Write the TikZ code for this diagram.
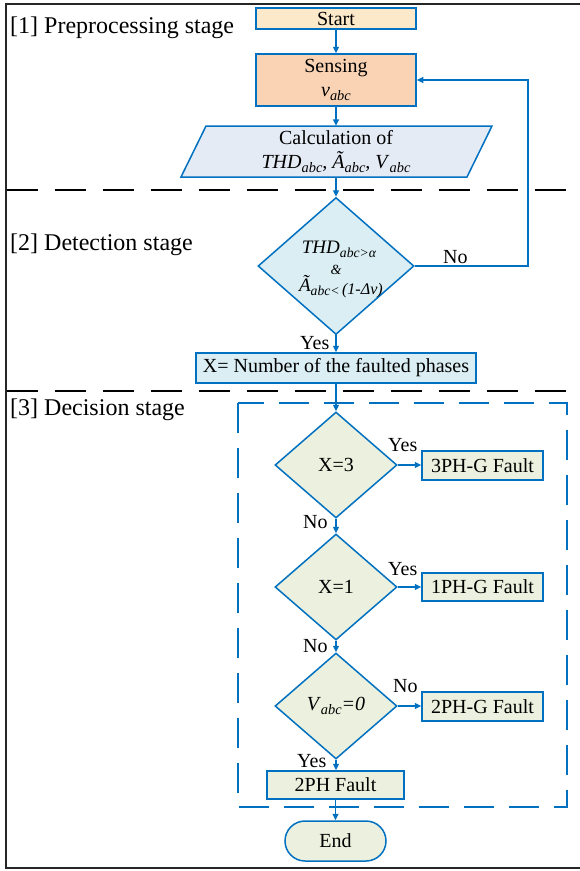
\documentclass[tikz,border=0pt]{standalone}
\usepackage{fontspec}
\usepackage{graphicx}
\setmainfont{Liberation Serif}
\usetikzlibrary{shapes.geometric,arrows.meta}
\definecolor{lblue}{HTML}{0070C0}
\definecolor{startfill}{HTML}{FCE9CA}
\definecolor{sensefill}{HTML}{F9D3B4}
\definecolor{calcfill}{HTML}{E4EBF5}
\definecolor{bfill}{HTML}{DAEEF3}
\definecolor{gfill}{HTML}{EBF1DE}
\newcommand\mysub[1]{\raisebox{-0.24em}{\scalebox{0.72}{\itshape #1}}}
\begin{document}
\begin{tikzpicture}[x=1pt,y=-1pt,
  every node/.style={font=\fontsize{20}{24}\selectfont, inner sep=0pt},
  box/.style={draw=lblue, line width=1.5pt, rectangle},
  dia/.style={draw=lblue, line width=1.5pt, diamond, fill=gfill, minimum width=122pt, minimum height=106pt},
  arr/.style={draw=lblue, line width=1.5pt, -{Triangle[length=6.5pt,width=6pt]}},
  lbl/.style={anchor=base west},
  stagelbl/.style={anchor=base west, font=\fontsize{24}{28}\selectfont},
  sep/.style={draw=black, line width=2.2pt, dash pattern=on 31pt off 17pt}]
\useasboundingbox (0,0) rectangle (580,871);
% frame
\draw[black!85, line width=1.6pt] (580,4) -- (6,4) -- (6,868) -- (580,868);
\draw[sep] (7,190) -- (580,190);
\draw[sep] (7,391) -- (580,391);
% stage labels
\node[stagelbl] (s1) at (10,33) {[1] Preprocessing stage};
\node[stagelbl] (s2) at (10,250) {[2] Detection stage};
\node[stagelbl] (s3) at (10,415) {[3] Decision stage};
% decision group
\draw[lblue, line width=2pt, dash pattern=on 30pt off 15pt] (238,403) rectangle (567,807);
% nodes
\node[box, fill=startfill, minimum width=160pt, minimum height=21pt] (start) at (336,18.5) {Start};
\node[box, fill=sensefill, minimum width=160pt, minimum height=52pt, align=center] (sense) at (336,80) {Sensing\\\textit{v}\mysub{abc}};
\draw[lblue, line width=1.5pt, fill=calcfill] (206,126) -- (492,126) -- (467,177) -- (181,177) -- cycle;
\node[minimum width=286pt, minimum height=51pt, align=center] (calc) at (336,151.5) {Calculation of\\\textit{THD}\mysub{abc}\textit{, Ã}\mysub{abc}\textit{, V}\mysub{abc}};
\node[dia, fill=bfill, minimum width=156pt, minimum height=137pt] (det) at (336,266) {};
\node[anchor=base, font=\fontsize{19}{20}\selectfont\itshape] (detA) at (339,253) {THD\mysub{abc>α}};
\node[anchor=base, font=\fontsize{14}{14}\selectfont\itshape] (detB) at (336,274) {\&};
\node[anchor=base, font=\fontsize{19}{20}\selectfont\itshape] (detC) at (341,291) {Ã\mysub{abc<\,}\raisebox{-0.2em}{\scalebox{0.85}{(1-Δv)}}};
\node[box, fill=bfill, minimum width=280pt, minimum height=30pt] (xnum) at (336,368) {X= Number of the faulted phases};
\node[dia] (q3) at (336,465) {X=3};
\node[dia] (q1) at (336,587) {X=1};
\node[dia] (qv) at (336,706) {\textit{V}\mysub{abc}\textit{=0}};
\node[box, fill=gfill, minimum width=121pt, minimum height=29pt] (f3) at (482.5,465.5) {3PH-G Fault};
\node[box, fill=gfill, minimum width=121pt, minimum height=28pt] (f1) at (482.5,587) {1PH-G Fault};
\node[box, fill=gfill, minimum width=121pt, minimum height=29pt] (f2g) at (482.5,706.5) {2PH-G Fault};
\node[box, fill=gfill, minimum width=137pt, minimum height=28pt] (f2) at (335.5,785) {2PH Fault};
\node[draw=lblue, line width=1.5pt, fill=gfill, rounded corners=20pt, minimum width=101pt, minimum height=40pt] (endn) at (335.5,841) {End};
% connectors
\coordinate (loopc) at (528,170);
\draw[arr] (start.south) -- (sense.north);
\draw[arr] (sense.south) -- (calc.north);
\draw[arr] (calc.south) -- (det.north);
\draw[arr] (det.east) -| (loopc) |- (sense.east);
\draw[arr] (det.south) -- (xnum.north);
\draw[arr] (xnum.south) -- (q3.north);
\draw[arr] (q3.east) -- (q3.east -| f3.west);
\draw[arr] (q3.south) -- (q1.north);
\draw[arr] (q1.east) -- (q1.east -| f1.west);
\draw[arr] (q1.south) -- (qv.north);
\draw[arr] (qv.east) -- (qv.east -| f2g.west);
\draw[arr] (qv.south) -- (f2.north -| qv.south);
\draw[arr] (f2.south -| endn.north) -- (endn.north);
% labels
\node[lbl] (noLoop) at (443,263) {No};
\node[lbl] (yesD) at (300,349) {Yes};
\node[lbl] (yes3) at (388,451) {Yes};
\node[lbl] (no3) at (303,528) {No};
\node[lbl] (yes1) at (388,575) {Yes};
\node[lbl] (no1) at (303,652) {No};
\node[lbl] (noV) at (393,692) {No};
\node[lbl] (yesV) at (297,767) {Yes};
\end{tikzpicture}
\end{document}
